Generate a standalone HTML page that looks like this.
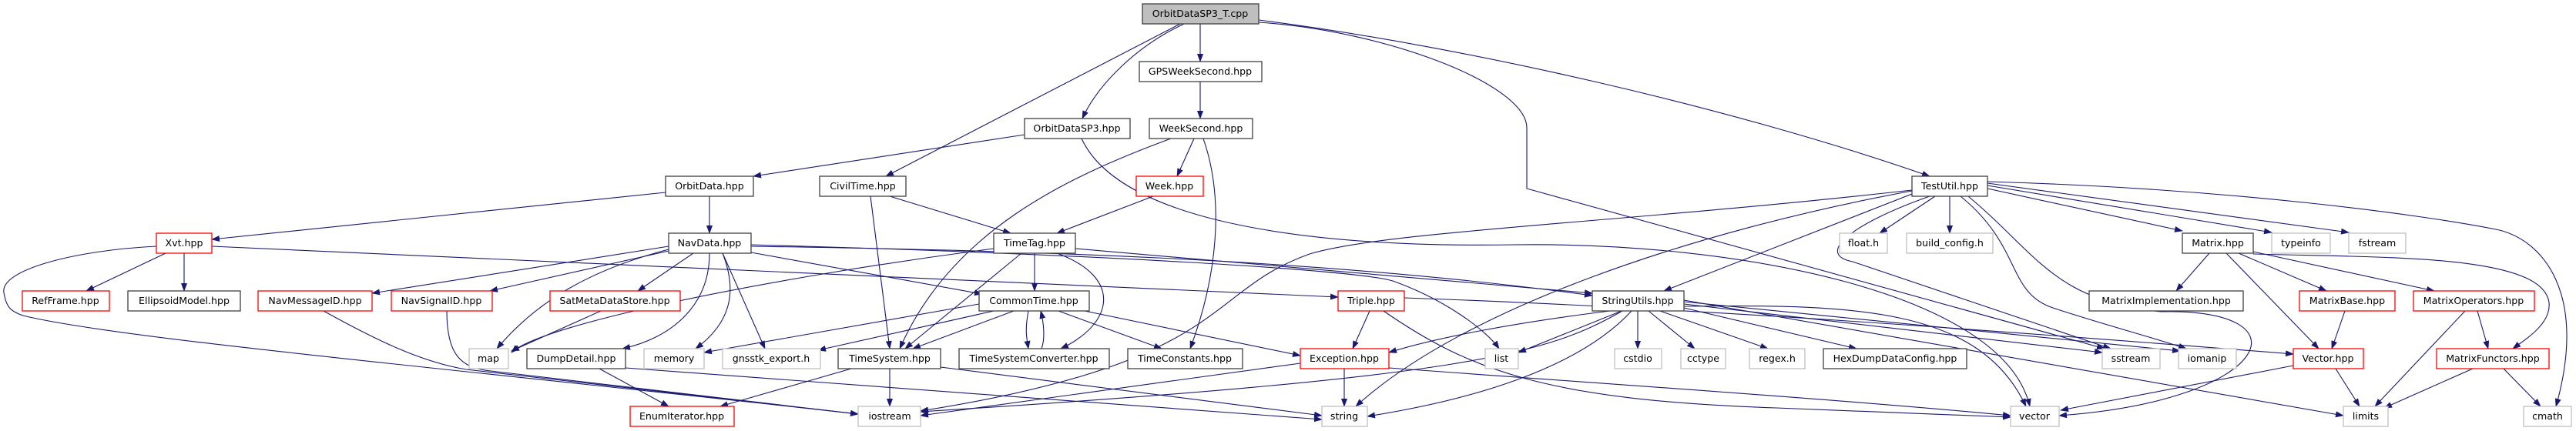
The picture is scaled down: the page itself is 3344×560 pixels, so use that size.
<!DOCTYPE html>
<html><head><meta charset="utf-8"><style>
html,body{margin:0;padding:0;background:#fff;}
svg{display:block;}
text{font-family:"DejaVu Sans","Liberation Sans",sans-serif;font-size:12.6px;fill:#000;text-anchor:middle;}
.e{fill:none;stroke:#191970;stroke-width:1.1;marker-end:url(#a);}
.n{fill:#fff;stroke:#404040;stroke-width:1.3;}
.r{fill:#fff;stroke:#ff0000;stroke-width:1.3;}
.g{fill:#fff;stroke:#bfbfbf;stroke-width:1.3;}
</style></head><body>
<svg width="3344" height="560" viewBox="0 0 3344 560" xmlns="http://www.w3.org/2000/svg">
<defs><marker id="a" markerUnits="userSpaceOnUse" markerWidth="11" markerHeight="8" refX="10" refY="4" orient="auto"><path d="M0,0 L11,4 L0,8 z" fill="#191970"/></marker></defs>
<g>
<path class="e" d="M1558,31 L1558,80"/>
<path class="e" d="M1537,31 C1475,60 1425,110 1405,154"/>
<path class="e" d="M1532,31 L1150,229"/>
<path class="e" d="M1634,26 C1900,60 2250,140 2505,229"/>
<path class="e" d="M1634,29 C1800,40 1982,110 1982,166 L1982,245 L2732,453"/>
<path class="e" d="M1558,106 L1558,154"/>
<path class="e" d="M1330,175 L978,229"/>
<path class="e" d="M1404,180 C1455,290 1705,322 1965,318 C2255,314 2600,380 2635,528"/>
<path class="e" d="M1550,180 L1528,229"/>
<path class="e" d="M1520,180 C1385,230 1235,300 1168,453"/>
<path class="e" d="M1562,180 C1590,260 1580,360 1545,453"/>
<path class="e" d="M1497,255 L1372,303"/>
<path class="e" d="M1155,255 L1312,303"/>
<path class="e" d="M1130,255 L1155,453"/>
<path class="e" d="M921,255 L921,303"/>
<path class="e" d="M864,250 L275,311"/>
<path class="e" d="M215,329 L112,378"/>
<path class="e" d="M239,329 L239,378"/>
<path class="e" d="M275,320 L1737,386"/>
<path class="e" d="M203,320 C100,325 0,350 5,380 C8,400 15,405 30,410 C150,440 600,480 1114,538"/>
<path class="e" d="M420,404 C485,440 545,470 605,480 L1114,538"/>
<path class="e" d="M580,404 C580,460 597,478 637,482 L1114,538"/>
<path class="e" d="M868,320 L483,381"/>
<path class="e" d="M868,326 L636,378"/>
<path class="e" d="M900,329 L828,378"/>
<path class="e" d="M868,324 C768,350 698,390 645,453"/>
<path class="e" d="M921,329 C921,400 868,440 808,453"/>
<path class="e" d="M938,329 C958,380 948,420 903,453"/>
<path class="e" d="M938,329 L993,453"/>
<path class="e" d="M975,328 L1275,382"/>
<path class="e" d="M975,320 C1310,325 1710,335 2067,384"/>
<path class="e" d="M975,318 C1410,330 1758,350 1808,365 C1878,390 1930,430 1946,453"/>
<path class="e" d="M780,404 L664,456"/>
<path class="e" d="M778,479 L868,528"/>
<path class="e" d="M812,478 L1716,545"/>
<path class="e" d="M1343,329 L1343,378"/>
<path class="e" d="M1326,329 L1175,453"/>
<path class="e" d="M1372,329 C1457,360 1447,420 1377,453"/>
<path class="e" d="M1290,323 C1005,360 705,420 664,458"/>
<path class="e" d="M1396,323 L2067,381"/>
<path class="e" d="M1316,404 L1185,453"/>
<path class="e" d="M1335,404 C1330,430 1333,440 1335,453"/>
<path class="e" d="M1352,453 C1357,440 1355,420 1351,404"/>
<path class="e" d="M1374,404 L1508,453"/>
<path class="e" d="M1408,404 L1688,462"/>
<path class="e" d="M1271,395 L914,458"/>
<path class="e" d="M1290,404 L1062,455"/>
<path class="e" d="M1155,479 L1155,528"/>
<path class="e" d="M1105,479 L935,528"/>
<path class="e" d="M1221,477 L1716,540"/>
<path class="e" d="M1778,404 L1756,453"/>
<path class="e" d="M1796,404 C1906,480 2006,520 2306,530 L2610,542"/>
<path class="e" d="M1823,387 C2200,400 2600,430 2977,460"/>
<path class="e" d="M1745,479 L1745,528"/>
<path class="e" d="M1688,472 L1195,540"/>
<path class="e" d="M1803,478 C2103,500 2403,520 2610,540"/>
<path class="e" d="M2090,404 C1960,420 1860,440 1803,458"/>
<path class="e" d="M2105,404 L1971,458"/>
<path class="e" d="M2126,404 L2126,453"/>
<path class="e" d="M2140,404 L2200,453"/>
<path class="e" d="M2155,404 L2295,453"/>
<path class="e" d="M2186,400 L2410,453"/>
<path class="e" d="M2186,395 L2729,458"/>
<path class="e" d="M2186,392 L2830,456"/>
<path class="e" d="M2186,398 C2410,395 2570,400 2630,528"/>
<path class="e" d="M2186,390 L3042,540"/>
<path class="e" d="M2118,404 C2048,480 1908,520 1775,541"/>
<path class="e" d="M2106,404 C2008,460 1908,490 1195,535"/>
<path class="e" d="M2512,255 L2440,303"/>
<path class="e" d="M2531,255 L2531,303"/>
<path class="e" d="M2580,245 L2833,300"/>
<path class="e" d="M2580,241 L2949,302"/>
<path class="e" d="M2580,238 L3049,302"/>
<path class="e" d="M2580,236 C2900,245 3150,280 3240,298 C3300,310 3360,380 3318,528"/>
<path class="e" d="M2482,252 L2160,378"/>
<path class="e" d="M2482,248 C2200,300 1900,400 1760,528"/>
<path class="e" d="M2482,247 C2100,290 1800,300 1700,330 C1560,380 1600,470 1195,534"/>
<path class="e" d="M2505,255 C2405,290 2355,330 2405,340 L2740,453"/>
<path class="e" d="M2545,255 C2625,320 2605,380 2665,400 C2725,420 2800,440 2838,453"/>
<path class="e" d="M2555,255 C2645,330 2665,390 2805,405 C3000,400 2950,520 2673,540"/>
<path class="e" d="M2868,329 L2825,378"/>
<path class="e" d="M2890,329 L3010,453"/>
<path class="e" d="M2906,329 L3020,378"/>
<path class="e" d="M2925,327 L3160,378"/>
<path class="e" d="M2925,330 C3100,335 3300,330 3309,393 C3312,420 3280,440 3262,453"/>
<path class="e" d="M3044,404 L3027,453"/>
<path class="e" d="M3216,404 L3230,453"/>
<path class="e" d="M3200,404 L3083,528"/>
<path class="e" d="M3210,479 L3095,530"/>
<path class="e" d="M3250,479 L3298,528"/>
<path class="e" d="M3032,479 L3063,528"/>
<path class="e" d="M2977,475 L2675,533"/>
</g>
<g>
<rect x="1483" y="5" width="151" height="26" fill="#bfbfbf" stroke="#404040" stroke-width="1.3"/><text x="1558" y="22">OrbitDataSP3_T.cpp</text>
<rect class="n" x="1479" y="80" width="159" height="26"/><text x="1558" y="97">GPSWeekSecond.hpp</text>
<rect class="n" x="1330" y="154" width="137" height="26"/><text x="1398" y="171">OrbitDataSP3.hpp</text>
<rect class="n" x="1492" y="154" width="134" height="26"/><text x="1559" y="171">WeekSecond.hpp</text>
<rect class="n" x="864" y="229" width="114" height="26"/><text x="921" y="246">OrbitData.hpp</text>
<rect class="n" x="1064" y="229" width="112" height="26"/><text x="1120" y="246">CivilTime.hpp</text>
<rect class="r" x="1475" y="229" width="87" height="26"/><text x="1518" y="246">Week.hpp</text>
<rect class="n" x="2482" y="229" width="98" height="26"/><text x="2531" y="246">TestUtil.hpp</text>
<rect class="r" x="203" y="303" width="72" height="26"/><text x="239" y="320">Xvt.hpp</text>
<rect class="n" x="868" y="303" width="107" height="26"/><text x="921" y="320">NavData.hpp</text>
<rect class="n" x="1290" y="303" width="106" height="26"/><text x="1343" y="320">TimeTag.hpp</text>
<rect class="g" x="2388" y="303" width="62" height="26"/><text x="2419" y="320">float.h</text>
<rect class="g" x="2475" y="303" width="112" height="26"/><text x="2531" y="320">build_config.h</text>
<rect class="n" x="2833" y="303" width="92" height="26"/><text x="2879" y="320">Matrix.hpp</text>
<rect class="g" x="2949" y="303" width="76" height="26"/><text x="2987" y="320">typeinfo</text>
<rect class="g" x="3049" y="303" width="74" height="26"/><text x="3086" y="320">fstream</text>
<rect class="r" x="29" y="378" width="113" height="26"/><text x="85" y="395">RefFrame.hpp</text>
<rect class="n" x="166" y="378" width="146" height="26"/><text x="239" y="395">EllipsoidModel.hpp</text>
<rect class="r" x="335" y="378" width="148" height="26"/><text x="409" y="395">NavMessageID.hpp</text>
<rect class="r" x="508" y="378" width="131" height="26"/><text x="573" y="395">NavSignalID.hpp</text>
<rect class="r" x="714" y="378" width="169" height="26"/><text x="798" y="395">SatMetaDataStore.hpp</text>
<rect class="n" x="1271" y="378" width="143" height="26"/><text x="1342" y="395">CommonTime.hpp</text>
<rect class="r" x="1737" y="378" width="86" height="26"/><text x="1780" y="395">Triple.hpp</text>
<rect class="n" x="2067" y="378" width="119" height="26"/><text x="2126" y="395">StringUtils.hpp</text>
<rect class="n" x="2712" y="378" width="200" height="26"/><text x="2812" y="395">MatrixImplementation.hpp</text>
<rect class="r" x="2985" y="378" width="124" height="26"/><text x="3047" y="395">MatrixBase.hpp</text>
<rect class="r" x="3133" y="378" width="157" height="26"/><text x="3211" y="395">MatrixOperators.hpp</text>
<rect class="g" x="609" y="453" width="51" height="26"/><text x="634" y="470">map</text>
<rect class="n" x="684" y="453" width="128" height="26"/><text x="748" y="470">DumpDetail.hpp</text>
<rect class="g" x="836" y="453" width="78" height="26"/><text x="875" y="470">memory</text>
<rect class="g" x="938" y="453" width="127" height="26"/><text x="1001" y="470">gnsstk_export.h</text>
<rect class="n" x="1088" y="453" width="133" height="26"/><text x="1155" y="470">TimeSystem.hpp</text>
<rect class="n" x="1245" y="453" width="195" height="26"/><text x="1342" y="470">TimeSystemConverter.hpp</text>
<rect class="n" x="1464" y="453" width="149" height="26"/><text x="1538" y="470">TimeConstants.hpp</text>
<rect class="r" x="1688" y="453" width="115" height="26"/><text x="1745" y="470">Exception.hpp</text>
<rect class="g" x="1928" y="453" width="43" height="26"/><text x="1949" y="470">list</text>
<rect class="g" x="2096" y="453" width="61" height="26"/><text x="2126" y="470">cstdio</text>
<rect class="g" x="2182" y="453" width="58" height="26"/><text x="2211" y="470">cctype</text>
<rect class="g" x="2271" y="453" width="72" height="26"/><text x="2307" y="470">regex.h</text>
<rect class="n" x="2367" y="453" width="186" height="26"/><text x="2460" y="470">HexDumpDataConfig.hpp</text>
<rect class="g" x="2729" y="453" width="75" height="26"/><text x="2766" y="470">sstream</text>
<rect class="g" x="2828" y="453" width="75" height="26"/><text x="2865" y="470">iomanip</text>
<rect class="r" x="2977" y="453" width="91" height="26"/><text x="3022" y="470">Vector.hpp</text>
<rect class="r" x="3163" y="453" width="146" height="26"/><text x="3236" y="470">MatrixFunctors.hpp</text>
<rect class="r" x="818" y="528" width="135" height="26"/><text x="885" y="545">EnumIterator.hpp</text>
<rect class="g" x="1114" y="528" width="81" height="26"/><text x="1155" y="545">iostream</text>
<rect class="g" x="1716" y="528" width="59" height="26"/><text x="1745" y="545">string</text>
<rect class="g" x="2610" y="528" width="63" height="26"/><text x="2641" y="545">vector</text>
<rect class="g" x="3042" y="528" width="58" height="26"/><text x="3071" y="545">limits</text>
<rect class="g" x="3276" y="528" width="62" height="26"/><text x="3307" y="545">cmath</text>
</g>
</svg>
</body></html>
